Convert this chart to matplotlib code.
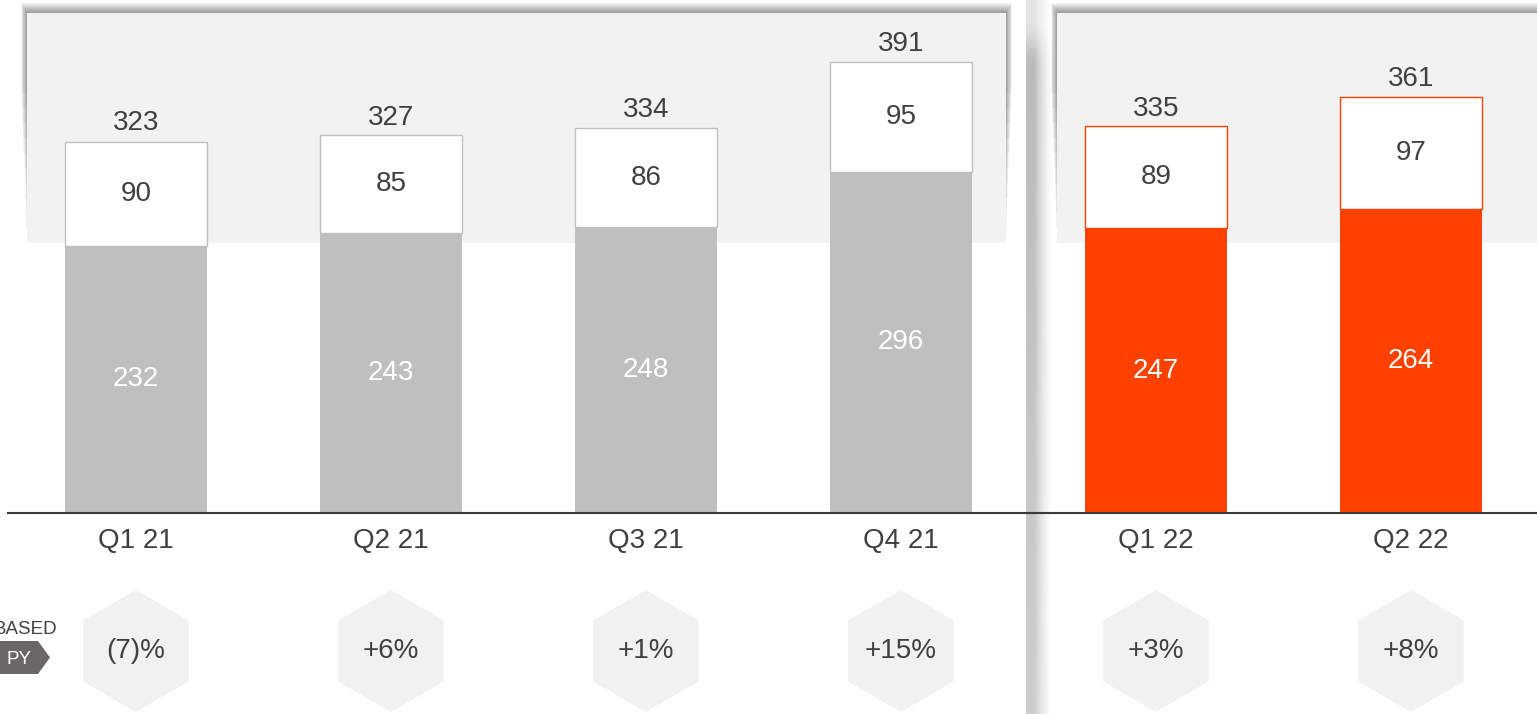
import numpy as np
import matplotlib.pyplot as plt
from matplotlib.patches import Rectangle, RegularPolygon, Polygon

plt.rcParams['font.family'] = ['Liberation Sans', 'DejaVu Sans']

# data
quarters = ['Q1 21', 'Q2 21', 'Q3 21', 'Q4 21', 'Q1 22', 'Q2 22']
base_vals = [232, 243, 248, 296, 247, 264]
top_vals = [90, 85, 86, 95, 89, 97]
totals = [323, 327, 334, 391, 335, 361]
growth = ['(7)%', '+6%', '+1%', '+15%', '+3%', '+8%']

GRAY = '#bfbfbf'
ORANGE = '#ff4100'
TXT = '#404040'
PANEL = '#f2f2f2'
colors = [GRAY] * 4 + [ORANGE] * 2
FS = 20

W, H = 1537, 714
fig = plt.figure(figsize=(W / 100, H / 100), dpi=100)

# background layer in pixel units (panels, shadows, PY tag)
bg = fig.add_axes([0, 0, 1, 1], zorder=0)
bg.axis('off')

for x0, x1 in [(27, 1006), (1057, 1545)]:
    for i in range(10, 0, -1):
        bg.add_patch(Rectangle((x0 - i * 0.6, 13 - i), x1 - x0 + i * 1.2, 230 - 14 * i,
                               color='black', alpha=0.045, lw=0))
    bg.add_patch(Rectangle((x0, 13), x1 - x0, 230, color=PANEL, lw=0))

# vertical divider shadow
xs = np.linspace(0, 1, 80)
prof = np.where(xs < 0.3, 1.0, np.clip(1 - (xs - 0.3) / 0.7, 0, 1) ** 1.5)
ys = np.linspace(0, 1, 80)[:, None]
fade = np.clip(ys / 0.08, 0.4, 1.0) * (1 - 0.3 * ys)
img = np.zeros((80, 80, 4))
img[..., 3] = 0.28 * prof[None, :] * fade
bg.imshow(img, extent=[1026, 1054, H, 0], aspect='auto', interpolation='bilinear')
bg.set_xlim(0, W)
bg.set_ylim(H, 0)

bg.add_patch(Polygon([(0, 641), (38, 641), (50, 657.5), (38, 674), (0, 674)],
                     closed=True, color='#6b6767', lw=0))
bg.text(19, 659, 'PY', color='white', fontsize=13.5, ha='center', va='center')
bg.text(57, 630, 'BASED', color=TXT, fontsize=13.5, ha='right', va='center')

# main bar chart
ax = fig.add_axes([8.4 / W, 201 / H, 1530 / W, 513 / H], zorder=1)
ax.patch.set_alpha(0)
ax.set_xlim(-0.5, 5.5)
ax.set_ylim(0, 445)
x = np.arange(len(quarters))
bw = 0.557

ax.bar(x, base_vals, width=bw, color=colors, lw=0)
ax.bar(x, top_vals, bottom=base_vals, width=bw, color='white',
       edgecolor=colors, lw=1)

for xi, b, t, tot in zip(x, base_vals, top_vals, totals):
    ax.text(xi, b / 2, str(b), color='white', fontsize=FS, ha='center', va='center')
    ax.text(xi, b + t / 2, str(t), color=TXT, fontsize=FS, ha='center', va='center')
    ax.annotate(str(tot), (xi, tot), xytext=(0, 8), textcoords='offset points',
                color=TXT, fontsize=FS, ha='center', va='baseline')

for s in ['top', 'left', 'right']:
    ax.spines[s].set_visible(False)
ax.spines['bottom'].set_color('#3a3a3a')
ax.spines['bottom'].set_linewidth(1.5)
ax.set_yticks([])
ax.set_xticks(x)
ax.set_xticklabels(quarters, fontsize=FS, color=TXT)
ax.tick_params(axis='x', length=0, pad=11)

# growth hexagons
ax2 = fig.add_axes([8.4 / W, 0, 1530 / W, 201 / H], zorder=1)
ax2.patch.set_alpha(0)
ax2.set_xlim(-0.5, 5.5)
ax2.set_ylim(0, 201 / 255)
ax2.axis('off')
for xi, g in zip(x, growth):
    ax2.add_patch(RegularPolygon((xi, 63 / 255), numVertices=6, radius=61 / 255,
                                 orientation=0, color='#f1f1f1', lw=0))
    ax2.text(xi, 63 / 255, g, color=TXT, fontsize=FS, ha='center', va='center')

fig.savefig('out.png', dpi=100, facecolor='white')
